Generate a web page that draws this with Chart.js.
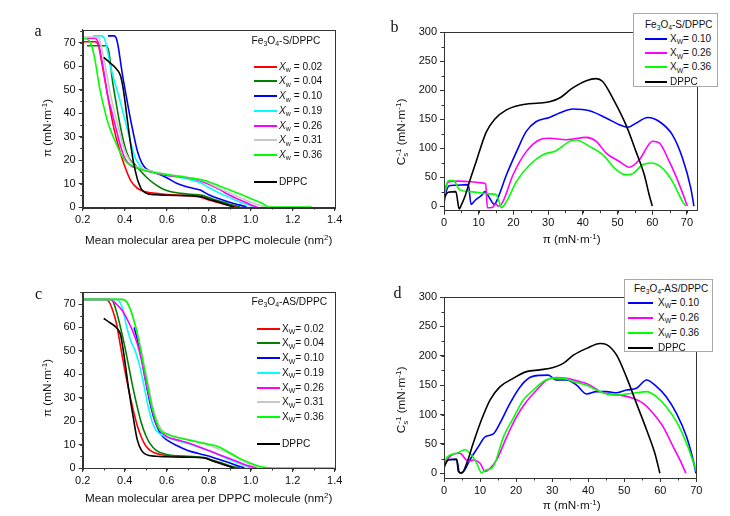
<!DOCTYPE html>
<html><head><meta charset="utf-8">
<script src="https://cdn.jsdelivr.net/npm/chart.js@4.4.1/dist/chart.umd.min.js"></script>
<style>
html,body{margin:0;padding:0;background:#fff}
body{width:730px;height:516px;position:relative;overflow:hidden;font-family:"Liberation Sans",Arial,sans-serif;color:#111}
canvas{position:absolute}
.t{position:absolute;white-space:nowrap}
.t sub,.t sup{font-size:68%;vertical-align:baseline;position:relative;line-height:0}
.t sub{top:0.35em}
.t sup{top:-0.45em}
.ln{position:absolute;height:2px}
.box{position:absolute;background:#fff;border:1px solid #a8a8a8;box-sizing:border-box}
.let{font-family:"Liberation Serif","DejaVu Serif",serif}
</style>
</head><body>
<script>
// ---------- tick labels ----------
const areaXTicks = [0.2,0.4,0.6,0.8,1.0,1.2,1.4];
const piYTicks = [0,10,20,30,40,50,60,70];
const piXTicks = [0,10,20,30,40,50,60,70];
const csYTicks = [0,50,100,150,200,250,300];

// ---------- series names ----------
const isoLabels = ['0.02','0.04','0.10','0.19','0.26','0.31','0.36','DPPC'];
const csLabels = ['0.10','0.26','0.36','DPPC'];

// ---------- panel a : Fe3O4-S/DPPC isotherms (area nm2, pi mN/m) ----------
const aX002 = [0.20,0.26,0.275,0.29,0.31,0.33,0.35,0.37,0.39,0.41,0.43,0.46,0.50,0.55,0.60,0.70,0.76,0.80,0.85,0.90,0.94];
const aY002 = [70.5,70.5,69,62,52,42,33,26,20,15,11,8,6.5,5.8,5.3,4.8,4.2,3,1.8,0.6,0];
const aX004 = [0.22,0.31,0.325,0.34,0.36,0.38,0.40,0.42,0.45,0.50,0.54,0.60,0.70,0.77,0.80,0.85,0.90,0.95];
const aY004 = [68.8,68.8,66,55,44,34,26,21,18,13,10,7,5.5,5,4,2.5,1.2,0];
const aX010 = [0.32,0.35,0.36,0.37,0.38,0.39,0.40,0.42,0.44,0.46,0.48,0.50,0.55,0.60,0.65,0.70,0.76,0.80,0.85,0.90,0.95,0.98];
const aY010 = [73,73,72,68,62,56,51,41,32,24,19,16.5,14.5,12.5,10,8.5,7.2,5.2,3.5,2,0.8,0];
const aX019 = [0.25,0.29,0.30,0.31,0.33,0.35,0.37,0.39,0.41,0.43,0.45,0.47,0.49,0.55,0.60,0.70,0.76,0.80,0.85,0.90,0.95,1.00,1.01];
const aY019 = [73,73,72.5,70,61,54,48,41,34,27,21,18,16,14.5,13.5,12,10.3,8.3,6,4,2,0.5,0];
const aX026 = [0.22,0.26,0.27,0.28,0.30,0.32,0.34,0.36,0.38,0.40,0.43,0.46,0.50,0.60,0.70,0.78,0.85,0.90,0.95,1.00,1.03];
const aY026 = [72,72,71,68,58,47,40,33,26,21,17.5,16.5,15.5,13.5,12.5,10.5,7.5,5,3,1,0];
const aX031 = [0.20,0.27,0.28,0.29,0.31,0.33,0.35,0.37,0.39,0.41,0.44,0.47,0.50,0.60,0.70,0.78,0.85,0.90,0.95,1.00,1.05,1.07];
const aY031 = [72.5,72.5,71.5,68,59,49,41,34,27,22,18,17,16,14,12.7,11,8,6,4,2,0.5,0];
const aX036 = [0.20,0.23,0.245,0.26,0.28,0.30,0.32,0.35,0.38,0.41,0.44,0.47,0.50,0.60,0.70,0.78,0.85,0.90,0.95,1.00,1.05,1.09,1.29];
const aY036 = [72,71,68,62,51,43,36,29,23,19,17.5,16.3,15.5,13.8,12.5,11.3,9,7.3,5.5,3.6,1.8,0,0];
const aXdppc = [0.30,0.33,0.36,0.38,0.39,0.40,0.42,0.44,0.46,0.47,0.48,0.50,0.55,0.60,0.70,0.76,0.80,0.85,0.90,0.92];
const aYdppc = [63.8,61.5,59,56,52,46,32,20,12,9.5,7.5,6,5.2,5,4.8,4.5,3.3,2,0.5,0];

// ---------- panel b : Fe3O4-S/DPPC compressibility modulus (pi, Cs^-1) ----------
const bX010 = [0,0.5,1.5,3,7,7.8,9,10.9,11.8,13,14.5,15.1,18,20.9,23.7,26.6,30.4,33.3,37.1,41.9,46.7,50.5,52.9,55.3,58.7,62,65.8,68.7,71.1,72];
const bY010 = [5,22,35,36,37,3,10,19,25,15,3,8,54,94,129,146,153,160.6,167.5,164.6,152,140.5,136,143,153,146,123,83,31,0];
const bX026 = [0,0.5,1.5,4,8,11,12,12.5,14,15,15.5,16,17,19.9,23.7,27.6,30.4,35.2,41,43.8,46.7,50.5,53.4,56.3,60.1,62,64.9,67.8,70.1];
const bY026 = [16,33,42,43,42,40,38,-3,-2,4,0,0,8,54,94,114.6,117,114.6,118.6,112,91.5,77,67,80,112,109,77,37,0];
const bX036 = [0,0.5,1.3,2.7,4.6,7.5,10.4,13,15,16,16.5,18,20.9,24.7,28.5,32.3,36.2,38.1,41.9,45.7,49.6,52.4,54.4,57.2,59.6,62.9,65.8,68.7,69.7];
const bY036 = [10,30,44,44,28,25,23,21,20,5,-3,8,42.6,71.4,88.7,95.6,111.7,114,103,88.7,62.8,54,56,71.4,74.3,65.6,42.6,8,0];
const bXdppc = [0,1.2,3.4,4.4,5.0,6,7.5,9,10.5,12.2,14.6,18,21.8,27.6,30.4,33.3,37.1,41,43.8,45.7,48.6,52.4,55.3,57.7,59.1,60];
const bYdppc = [14,24,25,-5,2,16,45,72,100,128,150,166,174,178,180,186.5,204,216.5,220,215,186.5,140.5,94.4,54,19.6,0];

// ---------- panel c : Fe3O4-AS/DPPC isotherms ----------
const cX002 = [0.20,0.31,0.325,0.34,0.36,0.38,0.40,0.42,0.44,0.46,0.48,0.50,0.53,0.57,0.62,0.70,0.78,0.82,0.86,0.90,0.93];
const cY002 = [72,72,71,68,62,52,42,33,25,18,13,9.5,7,5.8,5.2,4.8,4.3,3,1.8,0.7,0];
const cX004 = [0.20,0.33,0.345,0.36,0.38,0.40,0.42,0.44,0.46,0.48,0.50,0.52,0.55,0.60,0.65,0.70,0.78,0.82,0.86,0.90,0.95];
const cY004 = [72,72,71,67,60,52,43,34,26,19,14,10.5,7.5,5.8,5.2,5,4.5,3.3,2.2,1,0];
const cX010 = [0.445,0.46,0.48,0.50,0.52,0.54,0.56,0.58,0.60,0.65,0.70,0.76,0.82,0.88,0.93,0.97];
const cY010 = [60,55,47,37,28,21,16.5,13.5,12,9.5,7.5,6,4.5,2.8,1.2,0];
const cX019 = [0.20,0.36,0.375,0.39,0.41,0.43,0.45,0.47,0.49,0.51,0.53,0.55,0.58,0.62,0.70,0.78,0.84,0.90,0.95,1.00];
const cY019 = [72,72,71,68,60,54,50,44,36,27,20,16,14,12.5,10.5,8,6,3.5,1.8,0];
const cX026 = [0.20,0.33,0.36,0.39,0.42,0.44,0.46,0.48,0.50,0.52,0.54,0.56,0.60,0.65,0.70,0.80,0.87,0.93,0.98,1.03];
const cY026 = [72,72,70,67,62,58,53,46,37,29,22,17,13.5,12,10.8,7.5,5,3,1.2,0];
const cX031 = [0.20,0.38,0.40,0.42,0.44,0.46,0.48,0.50,0.52,0.54,0.56,0.58,0.62,0.70,0.78,0.85,0.90,0.95,1.00,1.05];
const cY031 = [72,72,71.5,69,64,58,50,41,32,24,19,16,14,12.3,10.5,8,6,3.5,1.5,0];
const cX036 = [0.20,0.39,0.41,0.43,0.45,0.47,0.49,0.51,0.53,0.55,0.57,0.60,0.65,0.70,0.78,0.85,0.90,0.95,1.00,1.05,1.10,1.40];
const cY036 = [72,72,71,67,61,53,44,35,26,20,16,14.5,13,12,10.5,9,6.5,4,2,0.5,0,0];
const cXdppc = [0.30,0.33,0.36,0.38,0.39,0.40,0.42,0.44,0.46,0.48,0.50,0.55,0.60,0.70,0.78,0.82,0.86,0.90,0.92];
const cYdppc = [63.8,62,60,57,52,46,33,22,12,7.5,5.8,5,4.8,4.6,4.3,3,1.8,0.6,0];

// ---------- panel d : Fe3O4-AS/DPPC compressibility modulus ----------
const dX010 = [0,1.2,3.5,4.3,5.4,7.2,9.5,11.4,13.7,15.5,18.3,21.1,23.8,26.6,28.9,31.2,34,36.8,39.6,42.3,45.1,47.9,50.6,53.4,56.2,59,61.7,64.5,67.3,69.1,69.9];
const dY010 = [11,23,24,1,3,23,45,62,67,85,119,147,163,166.7,167,158.7,158.7,150,135,139,139,137,141.7,144.6,158.7,147.4,130,102,62,23,0];
const dX026 = [0,0.7,4.4,5.8,6.7,8.1,10,11.4,12.8,14.6,17.4,20.1,22.9,25.7,28.5,31.2,34,37.7,40.5,43.3,46,48.8,52.5,55.3,58,60.8,63.6,65.9,67.1];
const dY026 = [8,21.5,34,25.5,20,22.7,17,3,8.5,22.7,62,96,122,141.7,158.7,163,161.6,156,150,139,135,133,127.5,119,102,79,45,17,0];
const dX036 = [0,0.9,3.5,5.8,7.2,9.1,10.4,11.8,13.2,14.1,16.5,19.2,22,24.8,27.5,30.3,33.1,35.9,39.6,42.3,45.1,47.9,50.6,53.4,56.2,59,61.7,64.5,67.3,69.6,70];
const dY036 = [14,28,34,40,34,17,1,6,8.5,17,62,93.5,125,141.7,156,162,161.6,156,150,141.7,135,133,135,137,139,130,113,88,51,11,3];
const dXdppc = [0,1.2,3.5,4,4.9,6.3,8.1,10.4,12.8,15.5,19.2,22.9,26.6,30.3,33.1,35.9,39.6,43.3,45.1,47.9,50.6,53.4,56.2,58.5,59.9];
const dYdppc = [11,23,24,3,0,17,51,91,125,147,161.6,173,176,180,187,201,212.6,221,219,201,164,119,74,34,0];

// ---------- styles ----------
const isoColors = ['#ff0000','#008000','#0000ff','#00ffff','#ff00ff','#c8c8c8','#00ff00','#000000'];
const csColors = ['#0000ff','#ff00ff','#00ff00','#000000'];
const FONT = '"Liberation Sans", Arial, sans-serif';

const framePlugin = {
  id: 'frame',
  afterDatasetsDraw(chart) {
    const {ctx, chartArea: a} = chart;
    ctx.save();
    ctx.strokeStyle = '#333'; ctx.lineWidth = 1;
    ctx.strokeRect(Math.round(a.left) + 0.5, Math.round(a.top) + 0.5, Math.round(a.right - a.left), Math.round(a.bottom - a.top));
    ctx.restore();
  }
};
const minorPlugin = {
  id: 'minor',
  afterDraw(chart, args, opts) {
    const ctx = chart.ctx, a = chart.chartArea;
    ctx.save(); ctx.strokeStyle = '#333'; ctx.lineWidth = 1; ctx.beginPath();
    ['x','y'].forEach(k => {
      const s = chart.scales[k], step = opts[k];
      if (!step) return;
      const n0 = Math.ceil(s.min / step - 1e-9), n1 = Math.floor(s.max / step + 1e-9);
      for (let n = n0; n <= n1; n++) {
        const p = Math.round(s.getPixelForValue(n * step)) + 0.5;
        if (k === 'x') { ctx.moveTo(p, a.bottom); ctx.lineTo(p, a.bottom + 2.5); }
        else { ctx.moveTo(a.left, p); ctx.lineTo(a.left - 2.5, p); }
      }
    });
    ctx.stroke(); ctx.restore();
  }
};

function panel(g, xr, yr, xTicks, yTicks, minor, xFmt, series) {
  const cv = document.createElement('canvas');
  cv.width = g.w; cv.height = g.h;
  cv.style.left = g.x + 'px'; cv.style.top = g.y + 'px';
  document.body.appendChild(cv);
  const tf = {family: FONT, size: 11};
  const axisCommon = {
    type: 'linear',
    grid: {drawOnChartArea: false, drawTicks: true, tickLength: 4, color: '#333'},
    border: {display: true, color: '#333'}
  };
  new Chart(cv, {
    type: 'scatter',
    data: {datasets: series.map((s, i) => ({
      data: s.xs.map((x, j) => ({x: x, y: s.ys[j]})),
      borderColor: s.c, backgroundColor: s.c, showLine: true, pointRadius: 0,
      borderWidth: 1.6, cubicInterpolationMode: 'monotone', order: -i
    }))},
    options: {
      responsive: false, animation: false, events: [],
      layout: {padding: {left: 0, top: g.pt, right: g.pr, bottom: 0}},
      plugins: {legend: {display: false}, tooltip: {enabled: false}, minor: minor},
      scales: {
        x: Object.assign({}, axisCommon, {
          min: xr[0], max: xr[1],
          afterFit: s => { s.height = g.xh; },
          afterBuildTicks: s => { s.ticks = xTicks.map(v => ({value: v})); },
          ticks: {font: tf, color: '#111', padding: 2, maxRotation: 0, autoSkip: false, callback: xFmt}
        }),
        y: Object.assign({}, axisCommon, {
          min: yr[0], max: yr[1],
          afterFit: s => { s.width = g.yw; },
          afterBuildTicks: s => { s.ticks = yTicks.map(v => ({value: v})); },
          ticks: {font: tf, color: '#111', padding: 3, autoSkip: false, callback: v => String(v)}
        })
      }
    },
    plugins: [framePlugin, minorPlugin]
  });
}

const fmt1 = v => Number(v).toFixed(1);
const fmt0 = v => String(v);

panel({x:0,y:0,w:365,h:258,pt:29.5,pr:30.3,yw:82.7,xh:51}, [0.2,1.4], [0,75.7], areaXTicks, piYTicks, {x:0.1,y:5}, fmt1, [
  {xs:aX002, ys:aY002, c:isoColors[0]}, {xs:aX004, ys:aY004, c:isoColors[1]},
  {xs:aX010, ys:aY010, c:isoColors[2]}, {xs:aX019, ys:aY019, c:isoColors[3]},
  {xs:aX026, ys:aY026, c:isoColors[4]}, {xs:aX031, ys:aY031, c:isoColors[5]},
  {xs:aX036, ys:aY036, c:isoColors[6]}, {xs:aXdppc, ys:aYdppc, c:isoColors[7]}
]);
panel({x:365,y:0,w:365,h:258,pt:32.3,pr:33.3,yw:79,xh:47.3}, [0,72.8], [-8,300], piXTicks, csYTicks, {x:5,y:25}, fmt0, [
  {xs:bX010, ys:bY010, c:csColors[0]}, {xs:bX026, ys:bY026, c:csColors[1]},
  {xs:bX036, ys:bY036, c:csColors[2]}, {xs:bXdppc, ys:bYdppc, c:csColors[3]}
]);
panel({x:0,y:258,w:365,h:258,pt:34.3,pr:30.3,yw:82.7,xh:48}, [0.2,1.4], [0,75], areaXTicks, piYTicks, {x:0.1,y:5}, fmt1, [
  {xs:cX002, ys:cY002, c:isoColors[0]}, {xs:cX004, ys:cY004, c:isoColors[1]},
  {xs:cX010, ys:cY010, c:isoColors[2]}, {xs:cX019, ys:cY019, c:isoColors[3]},
  {xs:cX026, ys:cY026, c:isoColors[4]}, {xs:cX031, ys:cY031, c:isoColors[5]},
  {xs:cX036, ys:cY036, c:isoColors[6]}, {xs:cXdppc, ys:cYdppc, c:isoColors[7]}
]);
panel({x:365,y:258,w:365,h:258,pt:39,pr:33.7,yw:79,xh:38}, [0,70], [-8,300], piXTicks, csYTicks, {x:5,y:25}, fmt0, [
  {xs:dX010, ys:dY010, c:csColors[0]}, {xs:dX026, ys:dY026, c:csColors[1]},
  {xs:dX036, ys:dY036, c:csColors[2]}, {xs:dXdppc, ys:dYdppc, c:csColors[3]}
]);

// ---------- text overlays ----------
function txt(html, x, y, size, align, rot, cls) {
  const d = document.createElement('div');
  d.className = 't' + (cls ? ' ' + cls : '');
  d.innerHTML = html;
  d.style.fontSize = size + 'px';
  d.style.lineHeight = Math.round(size * 1.2) + 'px';
  d.style.left = x + 'px'; d.style.top = y + 'px';
  const tx = align === 'center' ? '-50%' : (align === 'right' ? '-100%' : '0');
  d.style.transform = 'translate(' + tx + ',-50%)' + (rot ? ' rotate(' + rot + 'deg)' : '');
  document.body.appendChild(d);
  return d;
}
function line(x1, x2, y, color) {
  const d = document.createElement('div');
  d.className = 'ln';
  d.style.left = Math.round(x1) + 'px'; d.style.width = Math.round(x2 - x1) + 'px';
  d.style.top = Math.round(y - 1) + 'px';
  d.style.background = color;
  document.body.appendChild(d);
}
function box(x1, y1, x2, y2) {
  const d = document.createElement('div');
  d.className = 'box';
  d.style.left = x1 + 'px'; d.style.top = y1 + 'px';
  d.style.width = (x2 - x1) + 'px'; d.style.height = (y2 - y1) + 'px';
  document.body.appendChild(d);
}

const piTitle = '&pi; (mN&middot;m<sup>-1</sup>)';
const csTitle = 'C<sub>s</sub><sup style="margin-left:-0.35em">-1</sup> (mN&middot;m<sup>-1</sup>)';
const areaTitle = 'Mean molecular area per DPPC molecule (nm<sup>2</sup>)';

// panel letters
txt('a', 34.5, 30, 16, '', 0, 'let');
txt('b', 390.5, 26, 16, '', 0, 'let');
txt('c', 35, 293, 16, '', 0, 'let');
txt('d', 393.5, 291.5, 16, '', 0, 'let');

// axis titles
txt(areaTitle, 208.7, 240, 11.7, 'center');
txt(piTitle, 47, 128, 11.7, 'center', -90);
txt(piTitle, 571.7, 239, 11.7, 'center');
txt(csTitle, 400.5, 132, 11.7, 'center', -90);
txt(areaTitle, 208.7, 498, 11.7, 'center');
txt(piTitle, 47, 388, 11.7, 'center', -90);
txt(piTitle, 571.7, 504.5, 11.7, 'center');
txt(csTitle, 401, 400, 11.7, 'center', -90);

// legend a
const LF = 10.2;
txt('Fe<sub>3</sub>O<sub>4</sub>-S/DPPC', 251.5, 41, LF, '');
const aRows = [66.7, 81.4, 96.1, 110.8, 125.5, 140.2, 154.9, 182.3];
isoLabels.forEach((lab, i) => {
  line(254, 277, aRows[i], isoColors[i]);
  txt(lab === 'DPPC' ? 'DPPC' : '<i>X</i><sub>w</sub> = ' + lab, 279, aRows[i], LF, '');
});
// legend c
txt('Fe<sub>3</sub>O<sub>4</sub>-AS/DPPC', 251.5, 301.5, LF, '');
const cRows = [328.7, 343.4, 358.1, 372.8, 387.5, 402.2, 416.9, 443.7];
isoLabels.forEach((lab, i) => {
  line(257, 280, cRows[i], isoColors[i]);
  txt(lab === 'DPPC' ? 'DPPC' : 'X<sub>W</sub>= ' + lab, 282, cRows[i], LF, '');
});
// legend b
box(632.7, 12.7, 718.3, 87.3);
txt('Fe<sub>3</sub>O<sub>4</sub>-S/DPPC', 645, 25, 10, '');
const bRows = [39, 53.2, 67.4, 81.6];
csLabels.forEach((lab, i) => {
  line(645, 667.3, bRows[i], csColors[i]);
  txt(lab === 'DPPC' ? 'DPPC' : 'X<sub>W</sub>= ' + lab, 670, bRows[i], 10, '');
});
// legend d
box(624.3, 278.7, 713.3, 352.3);
txt('Fe<sub>3</sub>O<sub>4</sub>-AS/DPPC', 634, 288.5, 10, '');
const dRows = [303, 318, 333, 348];
csLabels.forEach((lab, i) => {
  line(628, 653, dRows[i], csColors[i]);
  txt(lab === 'DPPC' ? 'DPPC' : 'X<sub>W</sub>= ' + lab, 658, dRows[i], 10, '');
});
</script>
</body></html>
